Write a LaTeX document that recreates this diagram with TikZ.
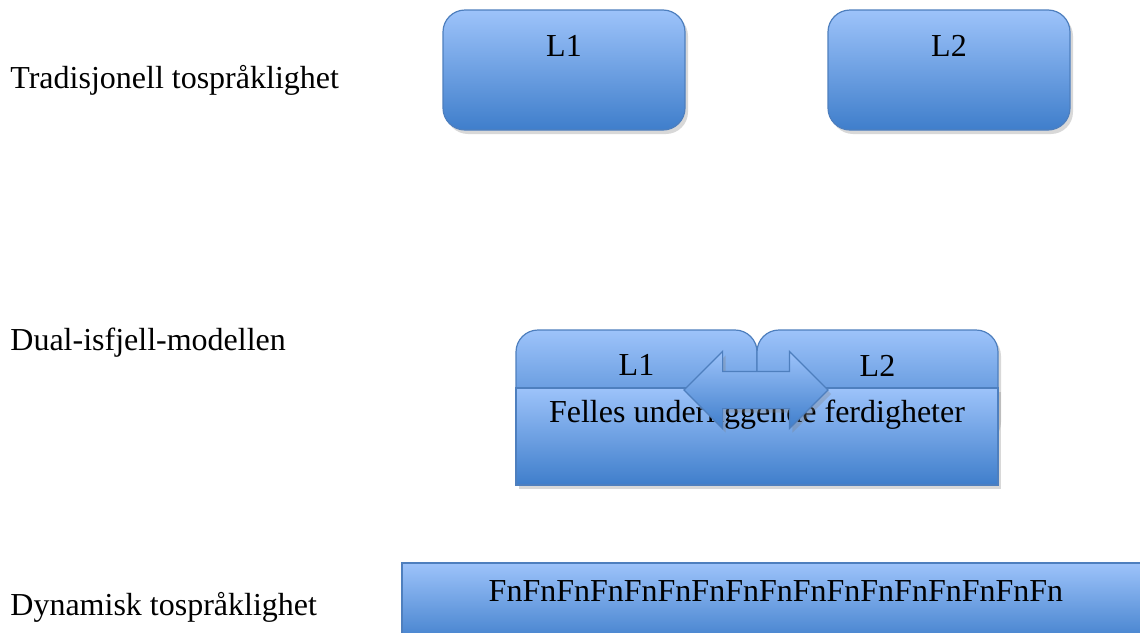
\documentclass[tikz,border=0pt]{standalone}
\usepackage{fontspec}
\setmainfont{Liberation Serif}
\usetikzlibrary{shapes.arrows,shadows}
\definecolor{boxtop}{HTML}{9DC3FA}
\definecolor{boxmid}{HTML}{8AB2EE}
\definecolor{boxbot}{HTML}{3F7ECB}
\definecolor{boxline}{HTML}{4E7FBE}
\tikzset{
  langbox/.style={draw=boxline, line width=0.6pt, top color=boxtop, middle color=boxmid,
    bottom color=boxbot, inner sep=0pt,
    drop shadow={shadow xshift=1.5pt, shadow yshift=-2pt, opacity=0.3}},
  rowlabel/.style={anchor=west, inner sep=0pt},
}
\begin{document}
\begin{tikzpicture}[x=0.5pt, y=-0.5pt, font=\fontsize{16}{19}\selectfont]
\useasboundingbox (0,0) rectangle (1140,632);
\clip (0,0) rectangle (1140,632);
\fill [white] (0,0) rectangle (1140,632);

\node [rowlabel] (tradlabel) at (10,80) {Tradisjonell tospråklighet};
\node [rowlabel] (duallabel) at (10,343) {Dual-isfjell-modellen};
\node [rowlabel] (dynlabel) at (10,607) {Dynamisk tospråklighet};

\node [langbox, rounded corners=11pt, minimum width=121pt, minimum height=60pt] (tradL1) at (564,70) {};
\node [langbox, rounded corners=11pt, minimum width=121pt, minimum height=60pt] (tradL2) at (949,70) {};
\node (tradL1txt) at ([yshift=-18.5pt]tradL1.north) {L1};
\node (tradL2txt) at ([yshift=-18.5pt]tradL2.north) {L2};

\node [langbox, rounded corners=11pt, minimum width=120.5pt, minimum height=55pt] (dualL1) at (636.5,385) {};
\node [langbox, rounded corners=11pt, minimum width=120.5pt, minimum height=55pt] (dualL2) at (877.5,385) {};
\node [langbox, minimum width=241pt, minimum height=48.5pt] (dualbase) at (757,436.5) {};
\node (dualL1txt) at ([yshift=-18pt]dualL1.north) {L1};
\node (dualL2txt) at ([yshift=-18pt]dualL2.north) {L2};
\node (felles) at ([yshift=-13.5pt]dualbase.north) {Felles underliggende ferdigheter};
\node [langbox, double arrow, inner xsep=0pt, inner ysep=9pt, minimum height=72pt,
  double arrow head extend=10pt] (dualarrow) at (756,390) {};

\node [langbox, minimum width=374pt, minimum height=41pt] (dynbox) at (776,604) {};
\node (dyntxt) at ([yshift=-14.5pt]dynbox.north) {FnFnFnFnFnFnFnFnFnFnFnFnFnFnFnFnFn};
\end{tikzpicture}
\end{document}
